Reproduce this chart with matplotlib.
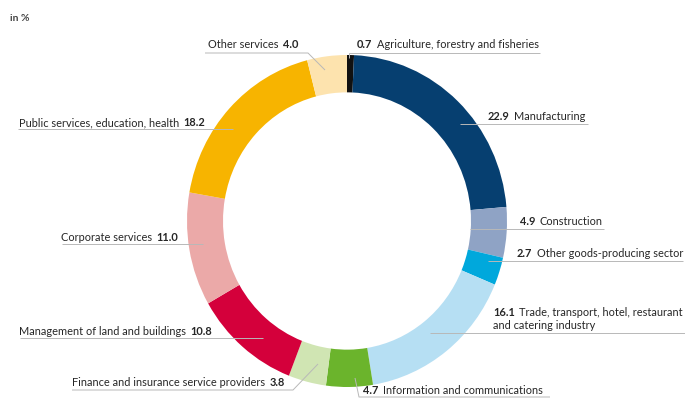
import matplotlib.pyplot as plt
import numpy as np

sectors = ['Agriculture, forestry and fisheries', 'Manufacturing', 'Construction',
           'Other goods-producing sector', 'Trade, transport, hotel, restaurant\nand catering industry',
           'Information and communications', 'Finance and insurance service providers',
           'Management of land and buildings', 'Corporate services',
           'Public services, education, health', 'Other services']
shares = [0.7, 22.9, 4.9, 2.7, 16.1, 4.7, 3.8, 10.8, 11.0, 18.2, 4.0]
colors = ['#111111', '#063f70', '#8fa3c5', '#00a8dc', '#b6dff3', '#6bb42c',
          '#d0e5b3', '#d4003b', '#eba9a8', '#f7b400', '#fde3ae']

plt.rcParams['font.family'] = ['Lato', 'DejaVu Sans']

W, H = 685, 399
fig = plt.figure(figsize=(W / 100, H / 100), dpi=100)

# donut, placed in pixel box (slightly taller than wide like the source)
x0, x1, y0, y1 = 187, 507, 55, 387
pax = fig.add_axes([x0 / W, 1 - y1 / H, (x1 - x0) / W, (y1 - y0) / H])
pax.pie(shares, colors=colors, startangle=90, counterclock=False,
        wedgeprops=dict(width=0.225, edgecolor='none'))
pax.set_aspect('auto')
pax.set_xlim(-1, 1)
pax.set_ylim(-1, 1)
pax.axis('off')

# overlay in pixel coordinates for labels and leader lines
ax = fig.add_axes([0, 0, 1, 1], zorder=3)
ax.set_xlim(0, W)
ax.set_ylim(H, 0)
ax.axis('off')
ax.patch.set_alpha(0)

lc = '#b8b8b8'
fs = 7.9
tc = '#262626'

# (text x, text baseline y, side, leader polyline)
layout = [
    (357, 48, 'left', [(349, 58), (349, 53), (540, 53)]),
    (488, 120, 'left', [(460, 124), (588, 124)]),
    (520, 225, 'left', [(470, 229), (604, 229)]),
    (517, 257, 'left', [(488, 261), (683, 261)]),
    (493, 316, 'left', [(430, 333), (685, 333)]),
    (363, 394, 'left', [(355, 378), (359, 397), (550, 397)]),
    (285, 386, 'right', [(72, 390), (293, 390), (318, 364)]),
    (212, 335, 'right', [(20, 338), (263, 338)]),
    (178, 241, 'right', [(62, 244), (203, 244)]),
    (205, 126, 'right', [(18, 129), (233, 129)]),
    (298, 48, 'right', [(205, 53), (308, 53), (325, 70)]),
]

for name, val, (tx, ty, side, pts) in zip(sectors, shares, layout):
    px, py = zip(*pts)
    ax.plot(px, py, color=lc, lw=0.7, solid_capstyle='butt')
    vtxt = f'{val:.1f}'
    lines = name.split('\n')
    if side == 'left':
        v = ax.text(tx, ty, vtxt, ha='left', va='baseline', fontsize=fs,
                    fontweight='bold', color=tc)
        ax.annotate(lines[0], xy=(1, 0), xycoords=v, xytext=(3, 0),
                    textcoords='offset points', ha='left', va='bottom',
                    fontsize=fs, color=tc)
        if len(lines) > 1:
            ax.text(tx, ty + 13, lines[1], ha='left', va='baseline',
                    fontsize=fs, color=tc)
    else:
        v = ax.text(tx, ty, vtxt, ha='right', va='baseline', fontsize=fs,
                    fontweight='bold', color=tc)
        ax.annotate(name, xy=(0, 0), xycoords=v, xytext=(-3, 0),
                    textcoords='offset points', ha='right', va='bottom',
                    fontsize=fs, color=tc)

ax.text(10, 21, 'in %', ha='left', va='baseline', fontsize=7.5,
        fontweight='bold', color='#444444')

fig.savefig('out.png', dpi=100)
